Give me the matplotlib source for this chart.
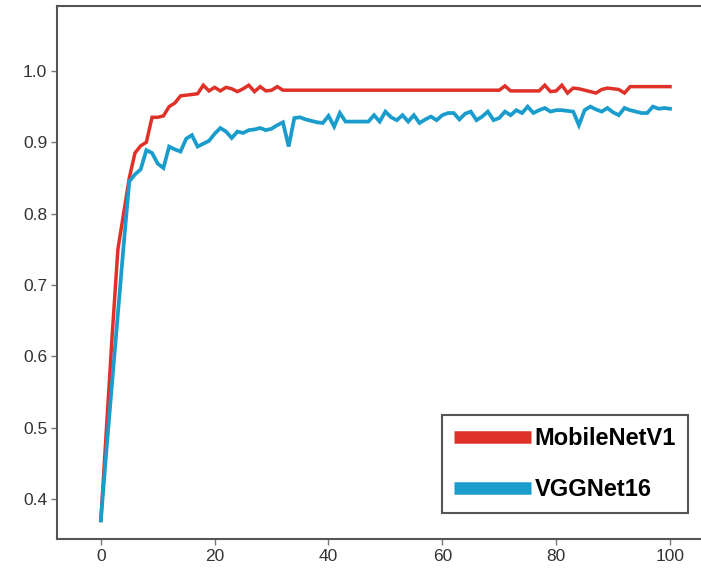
import matplotlib
matplotlib.use("Agg")
import matplotlib.pyplot as plt

epochs = list(range(0, 101))

mobilenet = [0.37, 0.50, 0.63, 0.75, 0.80, 0.85, 0.885, 0.895, 0.90, 0.935,
             0.935, 0.937, 0.95, 0.955, 0.965, 0.966, 0.967, 0.968, 0.98, 0.972,
             0.977, 0.972, 0.977, 0.975, 0.971, 0.975, 0.98, 0.971, 0.978, 0.972,
             0.973, 0.978, 0.973, 0.973, 0.973, 0.973, 0.973, 0.973, 0.973, 0.973,
             0.973, 0.973, 0.973, 0.973, 0.973, 0.973, 0.973, 0.973, 0.973, 0.973,
             0.973, 0.973, 0.973, 0.973, 0.973, 0.973, 0.973, 0.973, 0.973, 0.973,
             0.973, 0.973, 0.973, 0.973, 0.973, 0.973, 0.973, 0.973, 0.973, 0.973,
             0.973, 0.979, 0.972, 0.972, 0.972, 0.972, 0.972, 0.972, 0.98, 0.971,
             0.972, 0.98, 0.969, 0.976, 0.975, 0.973, 0.971, 0.969, 0.974, 0.976,
             0.975, 0.974, 0.969, 0.978, 0.978, 0.978, 0.978, 0.978, 0.978, 0.978,
             0.978]

vggnet = [0.37, 0.47, 0.565, 0.66, 0.755, 0.845, 0.855, 0.862, 0.889, 0.885,
          0.87, 0.864, 0.894, 0.89, 0.887, 0.905, 0.91, 0.894, 0.898, 0.902,
          0.912, 0.92, 0.915, 0.906, 0.915, 0.913, 0.917, 0.918, 0.92, 0.917,
          0.919, 0.924, 0.928, 0.894, 0.934, 0.935, 0.932, 0.93, 0.928, 0.927,
          0.937, 0.922, 0.941, 0.929, 0.929, 0.929, 0.929, 0.929, 0.938, 0.929,
          0.943, 0.935, 0.931, 0.938, 0.929, 0.938, 0.927, 0.932, 0.936, 0.931,
          0.938, 0.941, 0.941, 0.932, 0.94, 0.943, 0.931, 0.936, 0.943, 0.931,
          0.934, 0.943, 0.938, 0.945, 0.941, 0.95, 0.941, 0.945, 0.948, 0.943,
          0.945, 0.945, 0.944, 0.943, 0.924, 0.945, 0.95, 0.946, 0.943, 0.948,
          0.942, 0.938, 0.948, 0.945, 0.943, 0.941, 0.941, 0.95, 0.947, 0.948,
          0.947]

labels = ["MobileNetV1", "VGGNet16"]
xticks = [0, 20, 40, 60, 80, 100]
yticks = [0.4, 0.5, 0.6, 0.7, 0.8, 0.9, 1.0]

plt.rcParams['font.family'] = ['Liberation Sans', 'DejaVu Sans']

W, H = 701, 571
fig = plt.figure(figsize=(W / 100, H / 100), dpi=100)
ax = fig.add_axes([57 / W, (H - 539) / H, (703 - 57) / W, (539 - 6) / H])

ax.plot(epochs, mobilenet, color="#e03129", lw=2.5, label=labels[0], solid_joinstyle="miter")
ax.plot(epochs, vggnet, color="#1a9dcc", lw=2.7, label=labels[1], solid_joinstyle="miter")

ax.set_xlim(-7.7, 105.8)
ax.set_ylim(0.344, 1.091)
ax.set_xticks(xticks)
ax.set_xticklabels([str(t) for t in xticks])
ax.set_yticks(yticks)
ax.set_yticklabels([f"{t:.1f}" for t in yticks])

for s in ["left", "bottom", "top", "right"]:
    ax.spines[s].set_color("#555555")
    ax.spines[s].set_linewidth(1.5)
ax.tick_params(direction="out", length=4, width=1, color="#777777",
               labelsize=12.5, labelcolor="#333333", pad=3)

leg = ax.legend(loc="upper left", bbox_to_anchor=(442 / W, 1 - 415 / H),
                bbox_transform=fig.transFigure, borderaxespad=0,
                fancybox=False, framealpha=1, edgecolor="#555555",
                prop={"weight": "bold", "size": 17}, handlelength=3.25,
                handletextpad=0.18, labelspacing=1.2, borderpad=0.5)
leg.get_frame().set_linewidth(1.5)
for ln in leg.get_lines():
    ln.set_linewidth(9)
    ln.set_solid_capstyle("butt")

fig.savefig("out.png", dpi=100)
